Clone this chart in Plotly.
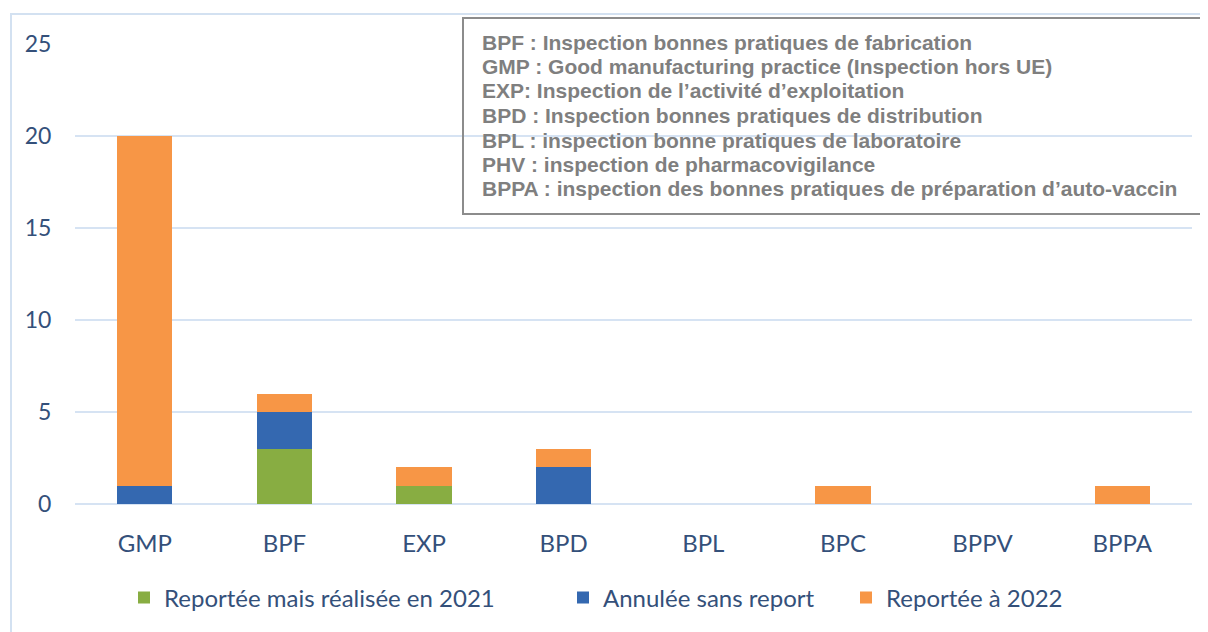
import plotly.graph_objects as go

# Données
categories = ["GMP", "BPF", "EXP", "BPD", "BPL", "BPC", "BPPV", "BPPA"]
realisee_2021 = [0, 3, 1, 0, 0, 0, 0, 0]
annulee = [1, 2, 0, 2, 0, 0, 0, 0]
reportee_2022 = [19, 1, 1, 1, 0, 1, 0, 1]

series_names = ["Reportée mais réalisée en 2021", "Annulée sans report", "Reportée à 2022"]
series_colors = ["#88ad42", "#3468b0", "#f79646"]

definitions = [
    "BPF : Inspection bonnes pratiques de fabrication",
    "GMP : Good manufacturing practice (Inspection hors UE)",
    "EXP: Inspection de l’activité d’exploitation",
    "BPD : Inspection bonnes pratiques de distribution",
    "BPL : inspection bonne pratiques de laboratoire",
    "PHV : inspection de pharmacovigilance",
    "BPPA : inspection des bonnes pratiques de préparation d’auto-vaccin",
]

# la page html a une marge de 8px autour de la figure
OFF = 8
W, H = 1208 - OFF, 632 - OFF
L, R, T, B = 75 - OFF, 16, 44 - OFF, 128
pw, ph = W - L - R, H - T - B


# conversion pixels écran -> coordonnées paper
def px_x(x):
    return (x - OFF - L) / pw


def px_y(y):
    return (H - B - (y - OFF)) / ph


fig = go.Figure()
legend_ids = ["legend", "legend2", "legend3"]
for name, vals, col, lg in zip(series_names, [realisee_2021, annulee, reportee_2022],
                               series_colors, legend_ids):
    fig.add_trace(go.Bar(
        x=categories, y=vals, name=name, legend=lg,
        marker=dict(color=col, line=dict(width=0)),
    ))

text_color = "#34507a"
grid_color = "#d6e3f3"

legend_style = dict(
    orientation="h", yanchor="middle", xanchor="left",
    font=dict(size=24, color=text_color),
    bgcolor="rgba(0,0,0,0)", itemwidth=30,
)
legend_x = [124, 563, 846]

fig.update_layout(
    width=W, height=H,
    barmode="stack",
    bargap=0.605,
    paper_bgcolor="white",
    plot_bgcolor="white",
    margin=dict(l=L, r=R, t=T, b=B),
    font=dict(family="Lato", color=text_color, size=23),
    showlegend=True,
    legend=dict(x=px_x(legend_x[0]), y=px_y(598), **legend_style),
    legend2=dict(x=px_x(legend_x[1]), y=px_y(598), **legend_style),
    legend3=dict(x=px_x(legend_x[2]), y=px_y(598), **legend_style),
    xaxis=dict(
        showgrid=False, showline=False, zeroline=False,
        ticks="outside", ticklen=18, tickcolor="rgba(0,0,0,0)",
        tickfont=dict(size=24, color=text_color),
    ),
    yaxis=dict(
        range=[0, 25], dtick=5,
        showgrid=True, gridcolor=grid_color, gridwidth=2,
        zeroline=True, zerolinecolor=grid_color, zerolinewidth=2,
        showline=False,
        ticks="outside", ticklen=18, tickcolor="rgba(0,0,0,0)",
        tickfont=dict(size=23, color=text_color),
    ),
)

# Cadre extérieur bleu clair
fig.add_shape(
    type="rect", xref="paper", yref="paper",
    x0=px_x(11), x1=px_x(1240), y0=px_y(14), y1=px_y(670),
    line=dict(color="#d3e1f1", width=2), fillcolor="rgba(0,0,0,0)", layer="below",
)

# Encadré des définitions
fig.add_shape(
    type="rect", xref="paper", yref="paper",
    x0=px_x(463), x1=px_x(1240), y0=px_y(18), y1=px_y(214),
    line=dict(color="#8c8c8c", width=2), fillcolor="rgba(0,0,0,0)",
)
for i, line in enumerate(definitions):
    fig.add_annotation(
        xref="paper", yref="paper", x=px_x(480), y=px_y(42 + i * 24.5),
        xanchor="left", yanchor="middle", align="left", showarrow=False,
        text=line,
        font=dict(family="Liberation Sans, Arial", size=21, color="#7f7f7f", weight="bold"),
    )

fig.write_html("out.html")
